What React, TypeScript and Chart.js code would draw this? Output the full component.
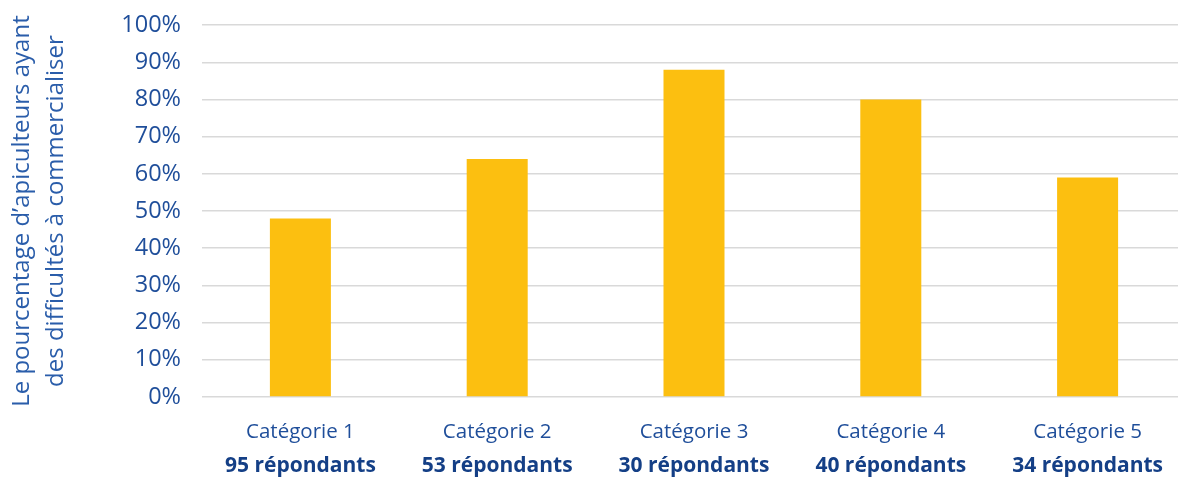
import React, { useEffect, useRef } from "react";
import { Chart, registerables } from "chart.js";

Chart.register(...registerables);

const categories = ["Catégorie 1", "Catégorie 2", "Catégorie 3", "Catégorie 4", "Catégorie 5"];
const respondents = ["95 répondants", "53 répondants", "30 répondants", "40 répondants", "34 répondants"];
const percentages = [48, 64, 88, 80, 59];
const yTitle = ["Le pourcentage d\u2019apiculteurs ayant", "des difficultés à commercialiser"];

const FONT = "'Open Sans', 'Noto Sans', sans-serif";

export default function App() {
  const ref = useRef<HTMLCanvasElement | null>(null);

  useEffect(() => {
    if (!ref.current) return;
    const chart = new Chart(ref.current, {
      type: "bar",
      data: {
        labels: categories,
        datasets: [
          {
            data: percentages,
            backgroundColor: "#FCBF10",
            borderWidth: 0,
            barPercentage: 0.62,
            categoryPercentage: 0.5,
            xAxisID: "x",
          },
        ],
      },
      options: {
        responsive: false,
        animation: false,
        devicePixelRatio: 1,
        layout: { padding: { top: 15, bottom: 2, left: 0, right: 4 } },
        plugins: { legend: { display: false }, tooltip: { enabled: false } },
        scales: {
          x: {
            type: "category",
            position: "bottom",
            grid: { display: false, drawTicks: false },
            border: { display: false },
            ticks: {
              color: "#1F4E9A",
              font: { family: FONT, size: 20.5, lineHeight: 1.2 },
              padding: 23,
              maxRotation: 0,
              autoSkip: false,
            },
            afterFit: (scale: any) => {
              scale.height = 47;
            },
          },
          x2: {
            type: "category",
            position: "bottom",
            labels: respondents,
            grid: { display: false, drawTicks: false },
            border: { display: false },
            ticks: {
              color: "#143F86",
              font: { family: FONT, size: 21, weight: "bold", lineHeight: 1.2 },
              padding: 9,
              maxRotation: 0,
              autoSkip: false,
            },
            afterFit: (scale: any) => {
              scale.height = 34;
            },
          },
          y: {
            min: 0,
            max: 100,
            grid: { color: "#D9D9D9", lineWidth: 1.5, drawTicks: false },
            border: { display: false },
            ticks: {
              stepSize: 10,
              color: "#1F4E9A",
              font: { family: FONT, size: 23.5, lineHeight: 1.2 },
              padding: 21,
              callback: (v: any) => v + "%",
            },
            title: {
              display: true,
              text: yTitle,
              color: "#2A5DAA",
              font: { family: FONT, size: 24, lineHeight: 1.38 },
              padding: { top: 6, bottom: 0 },
            },
            afterFit: (scale: any) => {
              scale.width = 202;
            },
          },
        },
      },
    });
    return () => chart.destroy();
  }, []);

  return (
    <div style={{ position: "fixed", left: 0, top: 0, width: 1178, height: 480, overflow: "hidden", background: "#fff" }}>
      <canvas
        ref={ref}
        width={1190}
        height={490}
        style={{ width: 1190, height: 490, display: "block", position: "absolute", left: 0, top: -10 }}
      />
    </div>
  );
}
